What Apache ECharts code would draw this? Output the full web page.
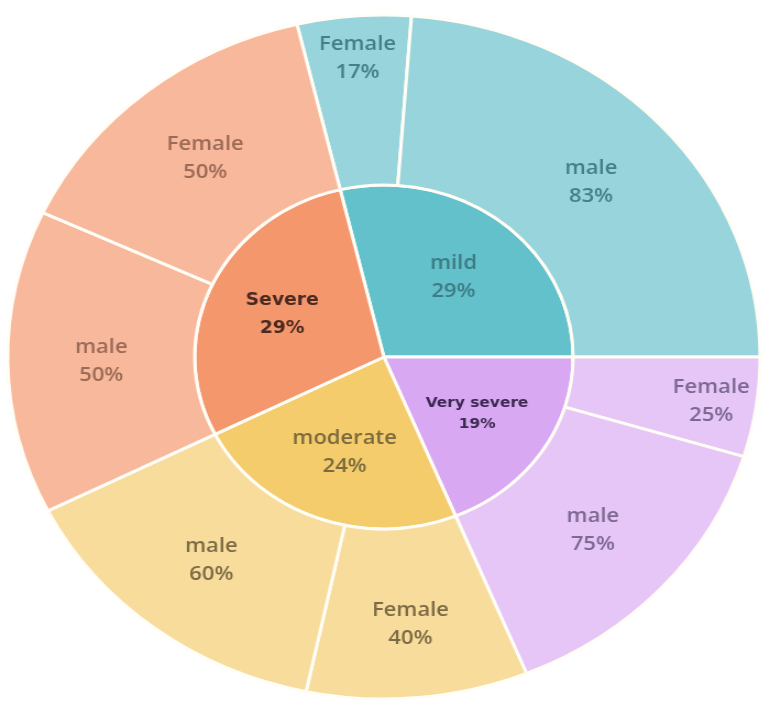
<!DOCTYPE html>
<html><head><meta charset="utf-8">
<script src="https://cdn.jsdelivr.net/npm/echarts@6/dist/echarts.min.js"></script>
<style>
html,body{margin:0;padding:0;background:#fff;overflow:hidden}
#wrap{width:772px;height:714px;position:relative;overflow:hidden}
#chart{width:702px;height:714px;transform:scaleX(1.1);transform-origin:0 0;}
</style></head><body>
<div id="wrap"><div id="chart"></div></div>
<script>
// ---- data ----
const categories = ['mild', 'Very severe', 'moderate', 'Severe'];
const categoryPct = [29, 19, 24, 29];
const genderLabels = [['Female', 'male'], ['Female', 'male'], ['Female', 'male'], ['male', 'Female']];
const genderPct = [[17, 83], [25, 75], [40, 60], [50, 50]];

// ---- styles ----
const innerColors = ['#62c1cb', '#d8a8f2', '#f5cc6c', '#f4976d'];
const outerColors = ['#97d4db', '#e6c6f6', '#f7dc9c', '#f8b89b'];
const innerText = ['#3f7b83', '#3d2852', '#7a6a3e', '#4a2a20'];
const outerText = ['#437f87', '#7c6890', '#7d6b45', '#9c6b57'];
const innerFont = {
  'mild': {fontFamily: 'Open Sans', fontWeight: 600, fontSize: 20, lineHeight: 28},
  'moderate': {fontFamily: 'Open Sans', fontWeight: 600, fontSize: 20, lineHeight: 28},
  'Severe': {fontFamily: 'DejaVu Sans', fontWeight: 'bold', fontSize: 17, lineHeight: 28},
  'Very severe': {fontFamily: 'DejaVu Sans', fontWeight: 'bold', fontSize: 14, lineHeight: 21}
};

const total = categoryPct.reduce((a, b) => a + b, 0);
const startAngle = categoryPct[0] / total * 360;

// move a centred label radially outward by 'shift' px:
// horizontal part through asymmetric padding, vertical part through a spacer line
function shiftedLabel(name, pct, midDeg, shift, base) {
  const a = midDeg * Math.PI / 180;
  const dx = shift * Math.cos(a), dy = -shift * Math.sin(a);
  const h = Math.round(Math.abs(2 * dy));
  let text = name + '\n' + pct + '%';
  if (h >= 2) text = dy > 0 ? '{s|\u00a0}\n' + text : text + '\n{s|\u00a0}';
  return Object.assign({
    padding: [0, Math.max(0, -2 * dx), 0, Math.max(0, 2 * dx)],
    formatter: text,
    rich: {s: {lineHeight: h, fontSize: 1}}
  }, base);
}

let acc = 0;
const data = categories.map((c, i) => {
  const w = categoryPct[i] / total * 360;
  const mid = startAngle - acc - w / 2;
  let acc2 = acc;
  const children = genderLabels[i].map((g, j) => {
    const cw = w * genderPct[i][j] / 100;
    const cmid = startAngle - acc2 - cw / 2;
    acc2 += cw;
    const shift = Math.max(0, 40 - cw) * 1.9;
    return {
      name: g,
      value: categoryPct[i] * genderPct[i][j] / 100,
      itemStyle: {color: outerColors[i]},
      label: shiftedLabel(g, genderPct[i][j], cmid, shift, {color: outerText[i]})
    };
  });
  acc += w;
  return {
    name: c,
    value: categoryPct[i],
    itemStyle: {color: innerColors[i]},
    label: shiftedLabel(c, categoryPct[i], mid, 16, Object.assign({color: innerText[i]}, innerFont[c])),
    children
  };
});

const chart = echarts.init(document.getElementById('chart'));
chart.setOption({
  animation: false,
  series: [{
    type: 'sunburst',
    center: [349, 357],
    radius: [0, 342],
    startAngle: startAngle,
    clockwise: true,
    sort: null,
    nodeClick: false,
    emphasis: {focus: 'none'},
    data: data,
    itemStyle: {borderColor: '#fffdf6', borderWidth: 3},
    label: {
      rotate: 0,
      fontFamily: 'Open Sans',
      fontWeight: 600,
      fontSize: 20,
      lineHeight: 28,
      align: 'center',
      verticalAlign: 'middle'
    },
    levels: [
      {},
      {r0: 0, r: 172},
      {r0: 172, r: 342}
    ]
  }]
});
</script>
</body></html>
